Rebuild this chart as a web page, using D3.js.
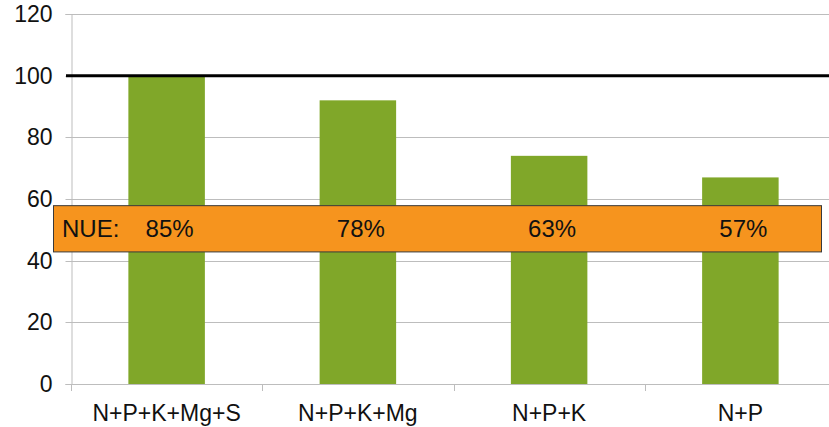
<!DOCTYPE html>
<html>
<head>
<meta charset="utf-8">
<script src="https://cdn.jsdelivr.net/npm/d3@7"></script>
<style>
html,body{margin:0;padding:0;background:#fff;}
svg{display:block;font-family:"Liberation Sans",Arial,sans-serif;}
</style>
</head>
<body>
<svg id="chart" width="829" height="427"></svg>
<script>
const categories = ["N+P+K+Mg+S", "N+P+K+Mg", "N+P+K", "N+P"];
const yieldValues = [100, 92, 74, 67];
const nueLabels = ["85%", "78%", "63%", "57%"];
const yTicks = [0, 20, 40, 60, 80, 100, 120];
const referenceLine = 100;

const svg = d3.select("#chart");
const mLeft = 71, mRight = 836, mTop = 14, mBottom = 384;

const x = d3.scaleBand().domain(categories).range([mLeft, mRight]).paddingInner(0).paddingOuter(0);
const y = d3.scaleLinear().domain([0, 120]).range([mBottom, mTop]);

// gridlines
svg.append("g").selectAll("line").data(yTicks.filter(d => d > 0)).join("line")
  .attr("x1", mLeft).attr("x2", 829)
  .attr("y1", d => Math.round(y(d)) + 0.5).attr("y2", d => Math.round(y(d)) + 0.5)
  .attr("stroke", "#bdbdbd").attr("stroke-width", 1);

// y axis
const yAxis = svg.append("g").attr("transform", `translate(${mLeft + 0.5},0)`)
  .call(d3.axisLeft(y).tickValues(yTicks).tickSize(6).tickPadding(13).tickFormat(d3.format("d")));
yAxis.select(".domain").attr("stroke", "#bdbdbd");
yAxis.selectAll(".tick line").attr("stroke", "#bdbdbd");
yAxis.selectAll(".tick").attr("transform", d => `translate(0,${Math.round(y(d)) + 0.5})`);
yAxis.selectAll("text").attr("font-size", 23).attr("fill", "#111").attr("font-family", "Liberation Sans, Arial, sans-serif");

// x axis
const xAxis = svg.append("g").attr("transform", `translate(0,${mBottom + 0.5})`)
  .call(d3.axisBottom(x).tickSize(0).tickPadding(20));
xAxis.select(".domain").attr("stroke", "#bdbdbd").attr("d", `M${mLeft},0H829`);
xAxis.selectAll("text").attr("font-size", 23).attr("fill", "#111").attr("font-family", "Liberation Sans, Arial, sans-serif");
// band boundary ticks
const boundaries = categories.map(c => x(c));
svg.append("g").selectAll("line").data(boundaries).join("line")
  .attr("x1", d => Math.round(d) + 0.5).attr("x2", d => Math.round(d) + 0.5)
  .attr("y1", mBottom).attr("y2", mBottom + 7)
  .attr("stroke", "#bdbdbd");

// bars
const bw = x.bandwidth() * 0.4;
svg.append("g").selectAll("rect").data(yieldValues).join("rect")
  .attr("x", (d, i) => x(categories[i]) + (x.bandwidth() - bw) / 2)
  .attr("width", bw)
  .attr("y", d => y(d))
  .attr("height", d => mBottom - y(d))
  .attr("fill", "#80a729");

// reference line
svg.append("line")
  .attr("x1", mLeft - 5).attr("x2", 829)
  .attr("y1", y(referenceLine)).attr("y2", y(referenceLine))
  .attr("stroke", "#000").attr("stroke-width", 3);

// NUE box
const boxX0 = x(categories[0]) - 18;
const boxX1 = x(categories[categories.length - 1]) + x.bandwidth() - 15;
svg.append("rect")
  .attr("x", boxX0 + 0.5).attr("y", y(58) + 0.5)
  .attr("width", boxX1 - boxX0).attr("height", y(43) - y(58))
  .attr("fill", "#f6941e").attr("stroke", "#3a3a3a").attr("stroke-width", 1);

const midY = (y(58) + y(43)) / 2;
svg.append("text").attr("x", boxX0 + 9).attr("y", midY + 8.5)
  .attr("font-size", 24).attr("fill", "#111").text("NUE:");
svg.append("g").selectAll("text").data(nueLabels).join("text")
  .attr("x", (d, i) => x(categories[i]) + x.bandwidth() / 2 + 3)
  .attr("y", midY + 8.5)
  .attr("text-anchor", "middle")
  .attr("font-size", 24).attr("fill", "#111")
  .text(d => d);
</script>
</body>
</html>
